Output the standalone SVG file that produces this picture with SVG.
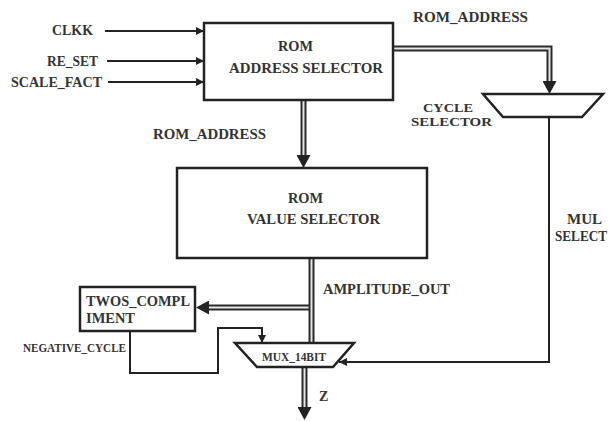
<svg xmlns="http://www.w3.org/2000/svg" width="609" height="421" viewBox="0 0 609 421">
<style>
.box{fill:#fff;stroke:#222;stroke-width:2.5}
.t{font-family:"Liberation Serif","Times New Roman",serif;font-weight:bold;font-size:14px;fill:#333}
.s{font-size:12px}
.ln{fill:none;stroke:#222;stroke-width:2}
.bo{fill:none;stroke:#2a2a2a;stroke-width:6}
.bi{fill:none;stroke:#e6e6e6;stroke-width:2}
</style>
<defs>
<marker id="arr" markerUnits="userSpaceOnUse" markerWidth="9" markerHeight="8" refX="8" refY="4" orient="auto"><path d="M0,0 L8,4 L0,8 z" fill="#222"/></marker>
<marker id="barr" markerUnits="userSpaceOnUse" markerWidth="14" markerHeight="14" refX="0" refY="7" orient="auto"><path d="M0,0 L13,7 L0,14 z" fill="#222"/></marker>
</defs>
<rect width="609" height="421" fill="#fff"/>
<g id="connectors">
<path class="ln" d="M105,31 H204" marker-end="url(#arr)"/>
<path class="ln" d="M107,61 H204" marker-end="url(#arr)"/>
<path class="ln" d="M108,82 H204" marker-end="url(#arr)"/>
<path class="bo" d="M393,48.5 H549.5 V81" marker-end="url(#barr)"/>
<path class="bi" d="M393,48.5 H549.5 V81"/>
<path class="bo" d="M303.5,100 V155" marker-end="url(#barr)"/>
<path class="bi" d="M303.5,100 V155"/>
<path class="bo" d="M311.5,307.5 H209" marker-end="url(#barr)"/>
<path class="bi" d="M311.5,307.5 H209"/>
<path class="bo" d="M311.5,258 V343"/>
<path class="bi" d="M311.5,258 V343"/>
<path class="bo" d="M304.5,367 V407" marker-end="url(#barr)"/>
<path class="bi" d="M304.5,367 V407"/>
<path class="ln" d="M130,331 V373 H218 V328 H262 V343" marker-end="url(#arr)"/>
<path class="ln" d="M549,117 V362 H339" marker-end="url(#arr)"/>
</g>
<g id="rom_address_selector">
<rect class="box" x="204" y="23" width="189" height="77"/>
<text class="t" x="278" y="51" textLength="35" lengthAdjust="spacingAndGlyphs">ROM</text>
<text class="t" x="229" y="73" textLength="154" lengthAdjust="spacingAndGlyphs">ADDRESS  SELECTOR</text>
</g>
<g id="rom_value_selector">
<rect class="box" x="177" y="168" width="250" height="90"/>
<text class="t" x="288" y="203" textLength="35" lengthAdjust="spacingAndGlyphs">ROM</text>
<text class="t" x="247" y="224" textLength="133" lengthAdjust="spacingAndGlyphs">VALUE  SELECTOR</text>
</g>
<g id="cycle_selector">
<polygon class="box" points="483,94 603,94 582,117 503,117"/>
</g>
<g id="twos_complement">
<rect class="box" x="80" y="287" width="115" height="44"/>
<text class="t" x="86" y="306" textLength="104" lengthAdjust="spacingAndGlyphs">TWOS_COMPL</text>
<text class="t" x="86" y="323" textLength="49" lengthAdjust="spacingAndGlyphs">IMENT</text>
</g>
<g id="mux_14bit">
<polygon class="box" points="235,343 354,343 333,367 257,367"/>
<text class="t s" x="262" y="361" textLength="64" lengthAdjust="spacingAndGlyphs">MUX_14BIT</text>
</g>
<g id="labels">
<text class="t" x="52" y="35" textLength="41" lengthAdjust="spacingAndGlyphs">CLKK</text>
<text class="t" x="47" y="66" textLength="51" lengthAdjust="spacingAndGlyphs">RE_SET</text>
<text class="t" x="11" y="87" textLength="91" lengthAdjust="spacingAndGlyphs">SCALE_FACT</text>
<text class="t" x="413" y="22" textLength="115" lengthAdjust="spacingAndGlyphs">ROM_ADDRESS</text>
<text class="t s" x="423" y="112" textLength="50" lengthAdjust="spacingAndGlyphs">CYCLE</text>
<text class="t s" x="411" y="126" textLength="81" lengthAdjust="spacingAndGlyphs">SELECTOR</text>
<text class="t" x="153" y="139" textLength="113" lengthAdjust="spacingAndGlyphs">ROM_ADDRESS</text>
<text class="t" x="323" y="294" textLength="127" lengthAdjust="spacingAndGlyphs">AMPLITUDE_OUT</text>
<text class="t s" x="23" y="352" textLength="103" lengthAdjust="spacingAndGlyphs">NEGATIVE_CYCLE</text>
<text class="t" x="319" y="401">Z</text>
<text class="t" x="567" y="224" textLength="35" lengthAdjust="spacingAndGlyphs">MUL</text>
<text class="t" x="555" y="241" textLength="52" lengthAdjust="spacingAndGlyphs">SELECT</text>
</g>
</svg>
